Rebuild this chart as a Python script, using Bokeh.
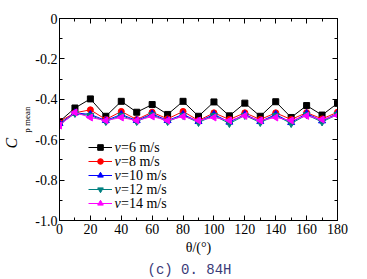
import math
from bokeh.plotting import figure
from bokeh.models import (Range1d, LinearAxis, FixedTicker, CustomJSTickFormatter,
                          Label, Legend, LegendItem, Title)
from bokeh.embed import file_html
from bokeh.resources import INLINE

# ---- data ----
theta = [0, 10, 20, 30, 40, 50, 60, 70, 80, 90, 100, 110, 120, 130, 140, 150, 160, 170, 180]
v6 = [-0.51, -0.443, -0.398, -0.484, -0.41, -0.464, -0.426, -0.475, -0.41, -0.484,
      -0.413, -0.482, -0.419, -0.484, -0.412, -0.49, -0.431, -0.478, -0.42]
v8 = [-0.51, -0.467, -0.452, -0.50, -0.46, -0.50, -0.464, -0.497, -0.46, -0.505,
      -0.467, -0.50, -0.467, -0.50, -0.467, -0.50, -0.466, -0.497, -0.464]
v10 = [-0.52, -0.467, -0.475, -0.505, -0.475, -0.505, -0.472, -0.505, -0.475, -0.51,
       -0.475, -0.513, -0.475, -0.51, -0.475, -0.515, -0.47, -0.507, -0.47]
v12 = [-0.525, -0.47, -0.48, -0.51, -0.48, -0.51, -0.477, -0.51, -0.48, -0.515,
       -0.48, -0.52, -0.48, -0.515, -0.48, -0.52, -0.477, -0.512, -0.475]
v14 = [-0.53, -0.465, -0.49, -0.505, -0.49, -0.505, -0.485, -0.505, -0.485, -0.505,
       -0.49, -0.505, -0.482, -0.505, -0.49, -0.505, -0.482, -0.50, -0.48]
legend_labels = ["=6 m/s", "=8 m/s", "=10 m/s", "=12 m/s", "=14 m/s"]
y_ticks = [0, -0.2, -0.4, -0.6, -0.8, -1.0]
y_minor = [-0.1, -0.3, -0.5, -0.7, -0.9]
x_ticks = [0, 20, 40, 60, 80, 100, 120, 140, 160, 180]
x_minor = [10, 30, 50, 70, 90, 110, 130, 150, 170]

SERIF = "Liberation Serif"
MONO = "Liberation Mono"
W, H = 367, 279
FL, FR, FT, FB = 58, 337, 18, 220  # target frame edges (canvas px)
ROW = 14          # legend row pitch
ROW0 = 147        # first legend row centre (canvas y)

p = figure(width=W, height=H, output_backend="svg", toolbar_location=None,
           x_range=Range1d(0, 180), y_range=Range1d(-1.0, 0),
           min_border_left=FL, min_border_right=W - FR,
           min_border_top=FT, min_border_bottom=H - FB,
           x_axis_location=None, y_axis_location=None)
p.xgrid.visible = False
p.ygrid.visible = False
p.outline_line_color = "black"
p.outline_line_width = 1
p.background_fill_color = "white"
p.border_fill_color = "white"

fmt_y = CustomJSTickFormatter(code="return tick == 0 ? '0' : tick.toFixed(1);")
fmt_x = CustomJSTickFormatter(code="return tick.toFixed(0);")
blank = CustomJSTickFormatter(code="return '';")

def style(ax, labels=True):
    ax.axis_line_color = "black"
    ax.major_tick_in = 5
    ax.major_tick_out = 0
    ax.minor_tick_in = 3
    ax.minor_tick_out = 0
    ax.major_tick_line_color = "black"
    ax.minor_tick_line_color = "black"
    ax.major_label_text_font = SERIF
    ax.major_label_text_font_size = "14px"
    ax.major_label_text_color = "black"
    ax.major_label_standoff = 3
    ax.axis_label_text_font = SERIF
    ax.axis_label_text_font_style = "normal"
    ax.axis_label_text_color = "black"
    if not labels:
        ax.major_label_text_font_size = "1px"
        ax.major_label_standoff = 0

left = LinearAxis(ticker=FixedTicker(ticks=y_ticks, minor_ticks=y_minor), formatter=fmt_y)
right = LinearAxis(ticker=FixedTicker(ticks=y_ticks, minor_ticks=y_minor), formatter=blank)
bottom = LinearAxis(ticker=FixedTicker(ticks=x_ticks, minor_ticks=x_minor), formatter=fmt_x)
top = LinearAxis(ticker=FixedTicker(ticks=x_ticks, minor_ticks=x_minor), formatter=blank)
style(left); style(bottom)
style(right, False); style(top, False)
left.major_label_standoff = 2
left.axis_label = "p mean"
left.axis_label_text_font_size = "9px"
left.axis_label_standoff = 0
bottom.axis_label = "\u03b8/(\u00b0)"
bottom.axis_label_text_font_size = "14px"
bottom.axis_label_standoff = 3
p.add_layout(left, "left")
p.add_layout(right, "right")
p.add_layout(bottom, "below")
p.add_layout(top, "above")

p.add_layout(Title(text="C", text_font=SERIF, text_font_style="italic",
                   text_font_size="16px", align="left", offset=72, standoff=0,
                   text_color="black"), "left")
p.add_layout(Title(text="(c) 0. 84H", text_font=MONO, text_font_style="normal",
                   text_font_size="14px", align="left", offset=88, standoff=4,
                   text_color="#3a3a78"), "below")

series = [
    (v6, "black", "square", 6, 0.0),
    (v8, "red", "circle", 6, 0.0),
    (v10, "blue", "triangle", 7, 0.0),
    (v12, "#008080", "inverted_triangle", 7, 0.0),
    (v14, "magenta", "triangle", 7, math.pi / 2),
]
items = []
for (ys, col, mk, sz, ang) in series:
    ln = p.line(theta, ys, line_color=col, line_width=1)
    sc = p.scatter(theta, ys, marker=mk, size=sz, angle=ang,
                   fill_color=col, line_color=col)
    items.append(LegendItem(label=" ", renderers=[ln, sc]))

leg_bottom = ROW0 - ROW / 2 + 5 * ROW
leg = Legend(items=items, location=(87 - FL, FB - leg_bottom),
             background_fill_alpha=0, border_line_alpha=0,
             padding=0, margin=0, spacing=0,
             glyph_width=24, glyph_height=ROW, label_height=ROW,
             label_standoff=0, label_width=0, label_text_font=SERIF,
             label_text_font_size="1px", label_text_color="black")
p.add_layout(leg)

# legend texts: italic v + rest
for i, txt in enumerate(legend_labels):
    cy = ROW0 + ROW * i
    p.add_layout(Label(x=114, y=cy, x_units="canvas", y_units="canvas",
                       text="v", text_font=SERIF, text_font_size="14px",
                       text_font_style="italic", text_align="left",
                       text_baseline="middle", text_color="black"))
    p.add_layout(Label(x=120.5, y=cy, x_units="canvas", y_units="canvas",
                       text=txt, text_font=SERIF, text_font_size="14px",
                       text_font_style="normal", text_align="left",
                       text_baseline="middle", text_color="black"))

open("out.html", "w").write(file_html(p, INLINE))
